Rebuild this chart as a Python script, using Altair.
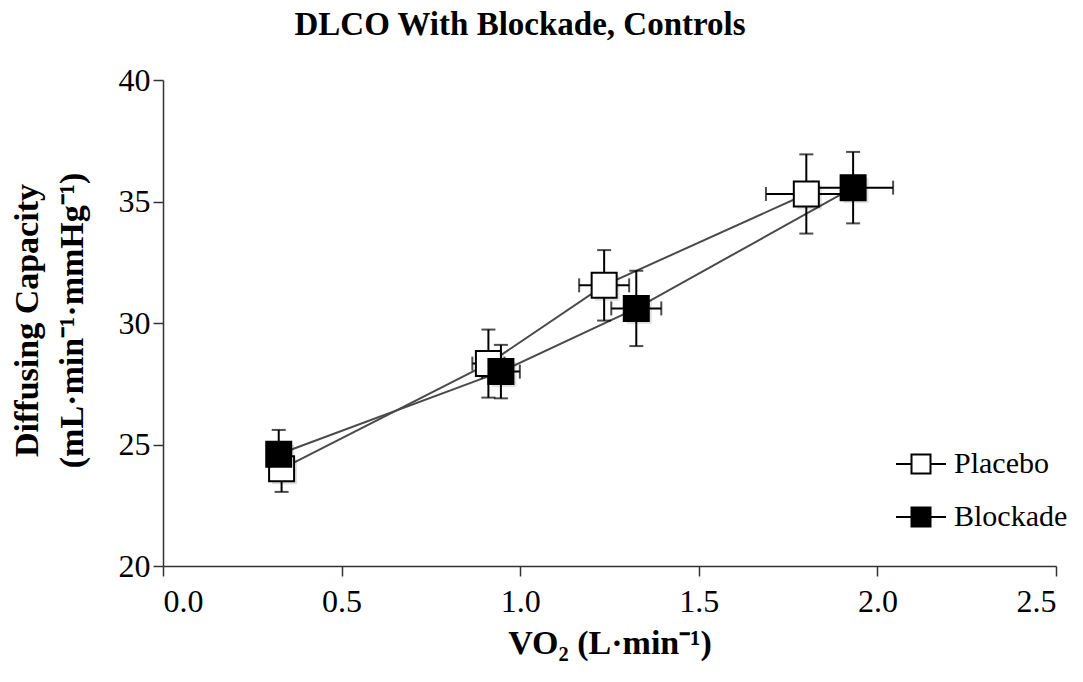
import altair as alt
import pandas as pd

# DLCO vs VO2 during exercise, placebo vs blockade (controls)
chart_title = "DLCO With Blockade, Controls"
series_names = ["Placebo", "Blockade"]

vo2_placebo = [0.332, 0.911, 1.235, 1.801]
dlco_placebo = [24.0, 28.33, 31.55, 35.31]
dlco_err_placebo = [0.95, 1.40, 1.45, 1.63]
vo2_err_placebo = [0.03, 0.045, 0.07, 0.113]

vo2_blockade = [0.324, 0.946, 1.325, 1.932]
dlco_blockade = [24.6, 28.0, 30.6, 35.57]
dlco_err_blockade = [1.0, 1.10, 1.55, 1.47]
vo2_err_blockade = [0.03, 0.053, 0.07, 0.112]

x_ticks = [0.0, 0.5, 1.0, 1.5, 2.0, 2.5]
y_ticks = [20, 25, 30, 35, 40]

rows = []
for name, xs, ys, yerr, xerr in [
    ("Placebo", vo2_placebo, dlco_placebo, dlco_err_placebo, vo2_err_placebo),
    ("Blockade", vo2_blockade, dlco_blockade, dlco_err_blockade, vo2_err_blockade),
]:
    for i, (xv, yv, ye, xe) in enumerate(zip(xs, ys, yerr, xerr)):
        rows.append({
            "series": name, "step": i, "vo2": xv, "dlco": yv,
            "dlco_lo": yv - ye, "dlco_hi": yv + ye,
            "vo2_lo": xv - xe, "vo2_hi": xv + xe,
        })
df = pd.DataFrame(rows)

FONT = "Liberation Serif"
xscale = alt.Scale(domain=[0, 2.5], nice=False, zero=False)
yscale = alt.Scale(domain=[20, 40], nice=False, zero=False)

x_enc = alt.X(
    "vo2:Q", scale=xscale,
    axis=alt.Axis(
        title="VO₂ (L·min⁻¹)", values=x_ticks, format=".1f",
        titleBaseline="alphabetic", titleY=87, titleFontSize=34,
    ),
)
y_enc = alt.Y(
    "dlco:Q", scale=yscale,
    axis=alt.Axis(
        title=["Diffusing Capacity", "(mL·min⁻¹·mmHg⁻¹)"], values=y_ticks, format="d",
        titleAngle=270, titleBaseline="alphabetic", titleX=-126, titleY=240,
        titleAlign="center", titleLineHeight=45, titleFontSize=34,
    ),
)

base = alt.Chart(df)

lines = base.mark_line(color="#4a4a4a", strokeWidth=2).encode(
    x=x_enc, y=y_enc, detail="series:N", order="step:O"
)

y_bars = base.mark_rule(color="black", strokeWidth=2).encode(
    x="vo2:Q", y="dlco_lo:Q", y2="dlco_hi:Q"
)
y_cap_lo = base.mark_tick(orient="horizontal", size=14, thickness=2, color="black").encode(
    x="vo2:Q", y="dlco_lo:Q"
)
y_cap_hi = base.mark_tick(orient="horizontal", size=14, thickness=2, color="black").encode(
    x="vo2:Q", y="dlco_hi:Q"
)
x_bars = base.mark_rule(color="black", strokeWidth=2).encode(
    y="dlco:Q", x="vo2_lo:Q", x2="vo2_hi:Q"
)
x_cap_lo = base.mark_tick(orient="vertical", size=14, thickness=2, color="black").encode(
    y="dlco:Q", x="vo2_lo:Q"
)
x_cap_hi = base.mark_tick(orient="vertical", size=14, thickness=2, color="black").encode(
    y="dlco:Q", x="vo2_hi:Q"
)

legend_symbol = "M-1,0H-0.38M0.38,0H1M-0.38,-0.38H0.38V0.38H-0.38Z"

shadows = base.mark_square(size=625, color="#000000", opacity=0.12).encode(
    x="vo2:Q", y="dlco:Q", xOffset=alt.value(3), yOffset=alt.value(3)
)

squares = base.mark_square(size=625, stroke="black", strokeWidth=2, opacity=1).encode(
    x="vo2:Q", y="dlco:Q",
    fill=alt.Fill(
        "series:N",
        scale=alt.Scale(domain=series_names, range=["white", "black"]),
        legend=alt.Legend(
            title=None, orient="none", legendX=732, legendY=358, padding=0,
            symbolType=legend_symbol, symbolSize=2500,
            symbolStrokeColor="black", symbolStrokeWidth=2, symbolOpacity=1,
            labelFont=FONT, labelFontSize=30, labelColor="black",
            labelOffset=7, rowPadding=12,
        ),
    ),
)

# chart heading, placed above the plot area
heading = alt.Chart(pd.DataFrame({"t": [chart_title]})).mark_text(
    font=FONT, fontSize=33, fontWeight="bold", color="black",
    align="center", baseline="alphabetic",
).encode(text="t:N", x=alt.value(357), y=alt.value(-45))

chart = alt.layer(
    lines, y_bars, y_cap_lo, y_cap_hi, x_bars, x_cap_lo, x_cap_hi, shadows, squares, heading
).properties(
    width=893,
    height=486,
    autosize="none",
    padding={"left": 163, "top": 80, "right": 27, "bottom": 116},
    background="white",
).configure_view(stroke=None).configure_axis(
    grid=False, domainColor="#333333", domainWidth=1.5, tickColor="#333333",
    tickWidth=1.5, tickSize=10, labelFont=FONT, labelFontSize=32, labelColor="black",
    labelPadding=3, titleFont=FONT, titleFontWeight="bold", titleColor="black",
).configure_axisX(labelPadding=10)

chart.save("out.html", embed_options={"renderer": "svg", "actions": False})
